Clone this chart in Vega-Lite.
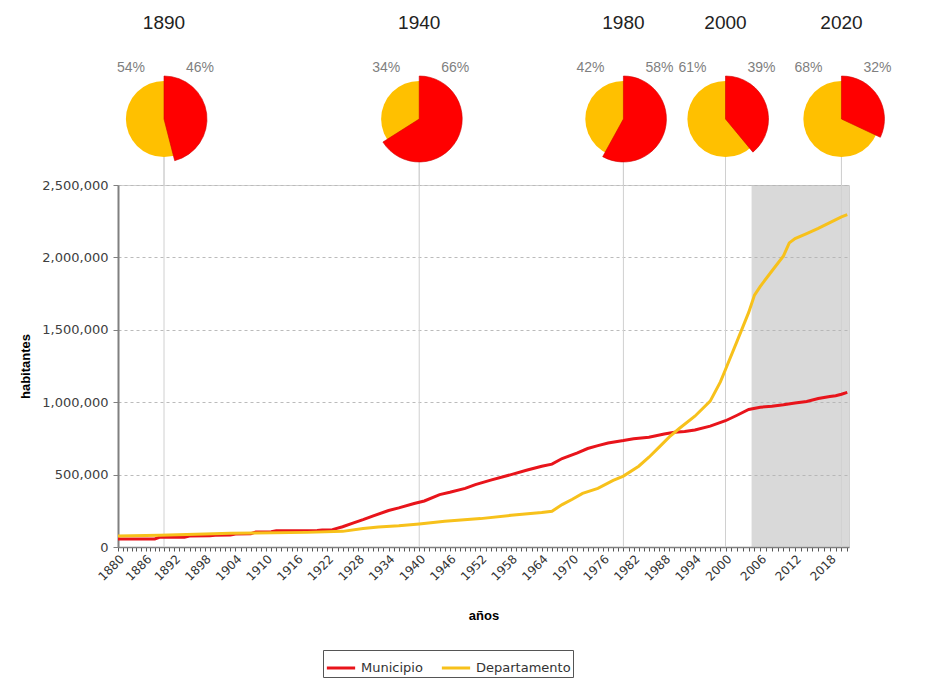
{
  "$schema": "https://vega.github.io/schema/vega-lite/v6.json",
  "background": "white",
  "padding": {"left": 19, "top": 14, "right": 10, "bottom": 3},
  "config": {"font": "Liberation Sans", "view": {"stroke": null}},
  "datasets": {
    "pies": [
      {"year": 1890, "serie": "Municipio", "pct": 46, "ord": 1},
      {"year": 1890, "serie": "Departamento", "pct": 54, "ord": 2},
      {"year": 1940, "serie": "Municipio", "pct": 66, "ord": 1},
      {"year": 1940, "serie": "Departamento", "pct": 34, "ord": 2},
      {"year": 1980, "serie": "Municipio", "pct": 58, "ord": 1},
      {"year": 1980, "serie": "Departamento", "pct": 42, "ord": 2},
      {"year": 2000, "serie": "Municipio", "pct": 39, "ord": 1},
      {"year": 2000, "serie": "Departamento", "pct": 61, "ord": 2},
      {"year": 2020, "serie": "Municipio", "pct": 32, "ord": 1},
      {"year": 2020, "serie": "Departamento", "pct": 68, "ord": 2}
    ],
    "pob": [
      {"year": 1880, "serie": "Municipio", "hab": 55000},
      {"year": 1888, "serie": "Municipio", "hab": 56000},
      {"year": 1889, "serie": "Municipio", "hab": 67000},
      {"year": 1894, "serie": "Municipio", "hab": 68000},
      {"year": 1895, "serie": "Municipio", "hab": 76000},
      {"year": 1899, "serie": "Municipio", "hab": 77000},
      {"year": 1900, "serie": "Municipio", "hab": 81000},
      {"year": 1903, "serie": "Municipio", "hab": 82000},
      {"year": 1904, "serie": "Municipio", "hab": 90000},
      {"year": 1907, "serie": "Municipio", "hab": 92000},
      {"year": 1908, "serie": "Municipio", "hab": 104000},
      {"year": 1911, "serie": "Municipio", "hab": 106000},
      {"year": 1912, "serie": "Municipio", "hab": 113000},
      {"year": 1920, "serie": "Municipio", "hab": 114000},
      {"year": 1921, "serie": "Municipio", "hab": 117000},
      {"year": 1923, "serie": "Municipio", "hab": 120000},
      {"year": 1925, "serie": "Municipio", "hab": 140000},
      {"year": 1927, "serie": "Municipio", "hab": 165000},
      {"year": 1929, "serie": "Municipio", "hab": 189000},
      {"year": 1931, "serie": "Municipio", "hab": 215000},
      {"year": 1934, "serie": "Municipio", "hab": 252000},
      {"year": 1936, "serie": "Municipio", "hab": 270000},
      {"year": 1939, "serie": "Municipio", "hab": 300000},
      {"year": 1941, "serie": "Municipio", "hab": 318000},
      {"year": 1944, "serie": "Municipio", "hab": 362000},
      {"year": 1946, "serie": "Municipio", "hab": 378000},
      {"year": 1949, "serie": "Municipio", "hab": 405000},
      {"year": 1951, "serie": "Municipio", "hab": 431000},
      {"year": 1954, "serie": "Municipio", "hab": 462000},
      {"year": 1958, "serie": "Municipio", "hab": 500000},
      {"year": 1961, "serie": "Municipio", "hab": 530000},
      {"year": 1964, "serie": "Municipio", "hab": 558000},
      {"year": 1966, "serie": "Municipio", "hab": 572000},
      {"year": 1968, "serie": "Municipio", "hab": 611000},
      {"year": 1971, "serie": "Municipio", "hab": 650000},
      {"year": 1973, "serie": "Municipio", "hab": 680000},
      {"year": 1975, "serie": "Municipio", "hab": 700000},
      {"year": 1977, "serie": "Municipio", "hab": 718000},
      {"year": 1980, "serie": "Municipio", "hab": 735000},
      {"year": 1982, "serie": "Municipio", "hab": 748000},
      {"year": 1985, "serie": "Municipio", "hab": 758000},
      {"year": 1988, "serie": "Municipio", "hab": 780000},
      {"year": 1990, "serie": "Municipio", "hab": 793000},
      {"year": 1992, "serie": "Municipio", "hab": 798000},
      {"year": 1994, "serie": "Municipio", "hab": 808000},
      {"year": 1997, "serie": "Municipio", "hab": 835000},
      {"year": 2000, "serie": "Municipio", "hab": 872000},
      {"year": 2002, "serie": "Municipio", "hab": 910000},
      {"year": 2004, "serie": "Municipio", "hab": 950000},
      {"year": 2006, "serie": "Municipio", "hab": 965000},
      {"year": 2008, "serie": "Municipio", "hab": 972000},
      {"year": 2010, "serie": "Municipio", "hab": 982000},
      {"year": 2012, "serie": "Municipio", "hab": 995000},
      {"year": 2014, "serie": "Municipio", "hab": 1005000},
      {"year": 2016, "serie": "Municipio", "hab": 1025000},
      {"year": 2018, "serie": "Municipio", "hab": 1040000},
      {"year": 2019, "serie": "Municipio", "hab": 1045000},
      {"year": 2020, "serie": "Municipio", "hab": 1055000},
      {"year": 2021, "serie": "Municipio", "hab": 1068000},
      {"year": 1880, "serie": "Departamento", "hab": 76000},
      {"year": 1889, "serie": "Departamento", "hab": 81000},
      {"year": 1898, "serie": "Departamento", "hab": 90000},
      {"year": 1903, "serie": "Departamento", "hab": 95000},
      {"year": 1908, "serie": "Departamento", "hab": 97000},
      {"year": 1918, "serie": "Departamento", "hab": 101000},
      {"year": 1925, "serie": "Departamento", "hab": 108000},
      {"year": 1929, "serie": "Departamento", "hab": 127000},
      {"year": 1932, "serie": "Departamento", "hab": 138000},
      {"year": 1936, "serie": "Departamento", "hab": 146000},
      {"year": 1940, "serie": "Departamento", "hab": 159000},
      {"year": 1945, "serie": "Departamento", "hab": 178000},
      {"year": 1952, "serie": "Departamento", "hab": 196000},
      {"year": 1958, "serie": "Departamento", "hab": 219000},
      {"year": 1964, "serie": "Departamento", "hab": 238000},
      {"year": 1966, "serie": "Departamento", "hab": 247000},
      {"year": 1968, "serie": "Departamento", "hab": 293000},
      {"year": 1970, "serie": "Departamento", "hab": 330000},
      {"year": 1972, "serie": "Departamento", "hab": 370000},
      {"year": 1975, "serie": "Departamento", "hab": 405000},
      {"year": 1978, "serie": "Departamento", "hab": 460000},
      {"year": 1980, "serie": "Departamento", "hab": 490000},
      {"year": 1983, "serie": "Departamento", "hab": 558000},
      {"year": 1985, "serie": "Departamento", "hab": 620000},
      {"year": 1987, "serie": "Departamento", "hab": 690000},
      {"year": 1989, "serie": "Departamento", "hab": 760000},
      {"year": 1991, "serie": "Departamento", "hab": 820000},
      {"year": 1994, "serie": "Departamento", "hab": 903000},
      {"year": 1997, "serie": "Departamento", "hab": 1007000},
      {"year": 1999, "serie": "Departamento", "hab": 1140000},
      {"year": 2000, "serie": "Departamento", "hab": 1226000},
      {"year": 2002, "serie": "Departamento", "hab": 1422000},
      {"year": 2004, "serie": "Departamento", "hab": 1620000},
      {"year": 2005, "serie": "Departamento", "hab": 1740000},
      {"year": 2006, "serie": "Departamento", "hab": 1800000},
      {"year": 2008, "serie": "Departamento", "hab": 1906000},
      {"year": 2010, "serie": "Departamento", "hab": 2010000},
      {"year": 2011, "serie": "Departamento", "hab": 2100000},
      {"year": 2012, "serie": "Departamento", "hab": 2130000},
      {"year": 2014, "serie": "Departamento", "hab": 2165000},
      {"year": 2016, "serie": "Departamento", "hab": 2200000},
      {"year": 2018, "serie": "Departamento", "hab": 2240000},
      {"year": 2020, "serie": "Departamento", "hab": 2280000},
      {"year": 2021, "serie": "Departamento", "hab": 2295000}
    ]
  },
  "vconcat": [
    {
      "width": 731,
      "height": 132,
      "view": {"stroke": null},
      "data": {"name": "pies"},
      "transform": [
        {"calculate": "datum.pct + '%'", "as": "etiqueta"}
      ],
      "encoding": {
        "x": {"field": "year", "type": "quantitative", "scale": {"domain": [1880, 1890, 2000, 2021.3], "range": [0, 46, 607.5, 731], "nice": false, "zero": false}, "axis": null},
        "y": {"datum": 0, "type": "quantitative", "scale": {"domain": [-1, 1]}, "axis": null}
      },
      "layer": [
        {
          "mark": {"type": "rule", "color": "#D0D0D0", "strokeWidth": 1},
          "encoding": {"y2": {"datum": -1}}
        },
        {
          "transform": [{"filter": "datum.ord == 2"}],
          "mark": {"type": "point", "shape": "circle", "filled": true, "size": 5809, "opacity": 1, "color": "#FFC000", "strokeWidth": 0}
        },
        {
          "transform": [{"filter": "datum.year == 1890 && datum.ord == 1"}],
          "mark": {"type": "arc", "outerRadius": 43, "color": "#FF0000", "stroke": "#D00000", "strokeWidth": 0.6},
          "encoding": {
            "theta": {"field": "pct", "type": "quantitative", "stack": true, "scale": {"domain": [0, 100]}}
          }
        },
        {
          "transform": [{"filter": "datum.year == 1940 && datum.ord == 1"}],
          "mark": {"type": "arc", "outerRadius": 43, "color": "#FF0000", "stroke": "#D00000", "strokeWidth": 0.6},
          "encoding": {
            "theta": {"field": "pct", "type": "quantitative", "stack": true, "scale": {"domain": [0, 100]}}
          }
        },
        {
          "transform": [{"filter": "datum.year == 1980 && datum.ord == 1"}],
          "mark": {"type": "arc", "outerRadius": 43, "color": "#FF0000", "stroke": "#D00000", "strokeWidth": 0.6},
          "encoding": {
            "theta": {"field": "pct", "type": "quantitative", "stack": true, "scale": {"domain": [0, 100]}}
          }
        },
        {
          "transform": [{"filter": "datum.year == 2000 && datum.ord == 1"}],
          "mark": {"type": "arc", "outerRadius": 43, "color": "#FF0000", "stroke": "#D00000", "strokeWidth": 0.6},
          "encoding": {
            "theta": {"field": "pct", "type": "quantitative", "stack": true, "scale": {"domain": [0, 100]}}
          }
        },
        {
          "transform": [{"filter": "datum.year == 2020 && datum.ord == 1"}],
          "mark": {"type": "arc", "outerRadius": 43, "color": "#FF0000", "stroke": "#D00000", "strokeWidth": 0.6},
          "encoding": {
            "theta": {"field": "pct", "type": "quantitative", "stack": true, "scale": {"domain": [0, 100]}}
          }
        },
        {
          "transform": [{"filter": "datum.ord == 1"}],
          "mark": {"type": "text", "dy": -96, "fontSize": 19, "color": "#222222"},
          "encoding": {"text": {"field": "year", "type": "quantitative", "format": "d"}}
        },
        {
          "transform": [{"filter": "datum.ord == 1"}],
          "mark": {"type": "text", "dy": -51, "dx": 36, "fontSize": 14, "color": "#7F7F7F"},
          "encoding": {"text": {"field": "etiqueta", "type": "nominal"}}
        },
        {
          "transform": [{"filter": "datum.ord == 2"}],
          "mark": {"type": "text", "dy": -51, "dx": -33, "fontSize": 14, "color": "#7F7F7F"},
          "encoding": {"text": {"field": "etiqueta", "type": "nominal"}}
        }
      ]
    },
    {
      "width": 731,
      "height": 362,
      "view": {"stroke": "#D0D0D0"},
      "encoding": {
        "x": {"field": "year", "type": "quantitative",
          "scale": {"domain": [1880, 1890, 2000, 2021.3], "range": [0, 46, 607.5, 731], "nice": false, "zero": false},
          "axis": {"title": "años", "titleFontSize": 13, "titleFontWeight": "bold", "titleColor": "#000000", "titlePadding": 27,
            "values": [1880,1881,1882,1883,1884,1885,1886,1887,1888,1889,1890,1891,1892,1893,1894,1895,1896,1897,1898,1899,1900,1901,1902,1903,1904,1905,1906,1907,1908,1909,1910,1911,1912,1913,1914,1915,1916,1917,1918,1919,1920,1921,1922,1923,1924,1925,1926,1927,1928,1929,1930,1931,1932,1933,1934,1935,1936,1937,1938,1939,1940,1941,1942,1943,1944,1945,1946,1947,1948,1949,1950,1951,1952,1953,1954,1955,1956,1957,1958,1959,1960,1961,1962,1963,1964,1965,1966,1967,1968,1969,1970,1971,1972,1973,1974,1975,1976,1977,1978,1979,1980,1981,1982,1983,1984,1985,1986,1987,1988,1989,1990,1991,1992,1993,1994,1995,1996,1997,1998,1999,2000,2001,2002,2003,2004,2005,2006,2007,2008,2009,2010,2011,2012,2013,2014,2015,2016,2017,2018,2019,2020,2021],
            "format": "d", "labelExpr": "(datum.value - 1880) % 6 == 0 ? datum.label : ''",
            "labelAngle": -45, "labelFont": "DejaVu Sans", "labelFontSize": 12, "labelColor": "#333333", "labelOverlap": false, "labelFlush": false, "labelBound": false,
            "tickSize": 4, "tickColor": "#555555", "domainColor": "#808080", "domainWidth": 1.5, "grid": false}
        }
      },
      "layer": [
        {
          "data": {"values": [{"year": 2004.5, "hasta": 2021.3}]},
          "mark": {"type": "rect", "color": "#B3B3B3", "opacity": 0.5},
          "encoding": {"x2": {"field": "hasta"}}
        },
        {
          "data": {"values": [{"year": 1890}, {"year": 1940}, {"year": 1980}, {"year": 2000}, {"year": 2020}]},
          "mark": {"type": "rule", "color": "#D0D0D0", "strokeWidth": 1},
          "encoding": {}
        },
        {
          "data": {"name": "pob"},
          "mark": {"type": "line", "strokeWidth": 3, "interpolate": "linear"},
          "encoding": {
            "y": {"field": "hab", "type": "quantitative",
              "scale": {"domain": [0, 2500000], "nice": false},
              "axis": {"title": "habitantes", "titleFontSize": 13, "titleFontWeight": "bold", "titleColor": "#000000", "titlePadding": 9,
                "values": [0, 500000, 1000000, 1500000, 2000000, 2500000], "format": ",d",
                "labelFont": "DejaVu Sans", "labelFontSize": 13, "labelColor": "#404040", "labelPadding": 5, "tickSize": 5, "tickColor": "#808080", "domainColor": "#808080", "domainWidth": 2,
                "grid": true, "gridDash": [3, 3], "gridColor": "#BBBBBB"}
            },
            "color": {"field": "serie", "type": "nominal", "scale": {"domain": ["Municipio", "Departamento"], "range": ["#E8141B", "#F7C11B"]},
              "legend": {"orient": "none", "legendX": 205, "legendY": 597, "direction": "horizontal", "title": null, "strokeColor": "#555555", "fillColor": "white", "padding": 2, "symbolType": "stroke", "symbolStrokeWidth": 3, "symbolSize": 800, "labelFont": "DejaVu Sans", "labelFontSize": 13, "labelColor": "#333333", "columnPadding": 12, "symbolOffset": 0}}
          }
        }
      ]
    }
  ],
  "spacing": 0,
  "bounds": "flush"
}
